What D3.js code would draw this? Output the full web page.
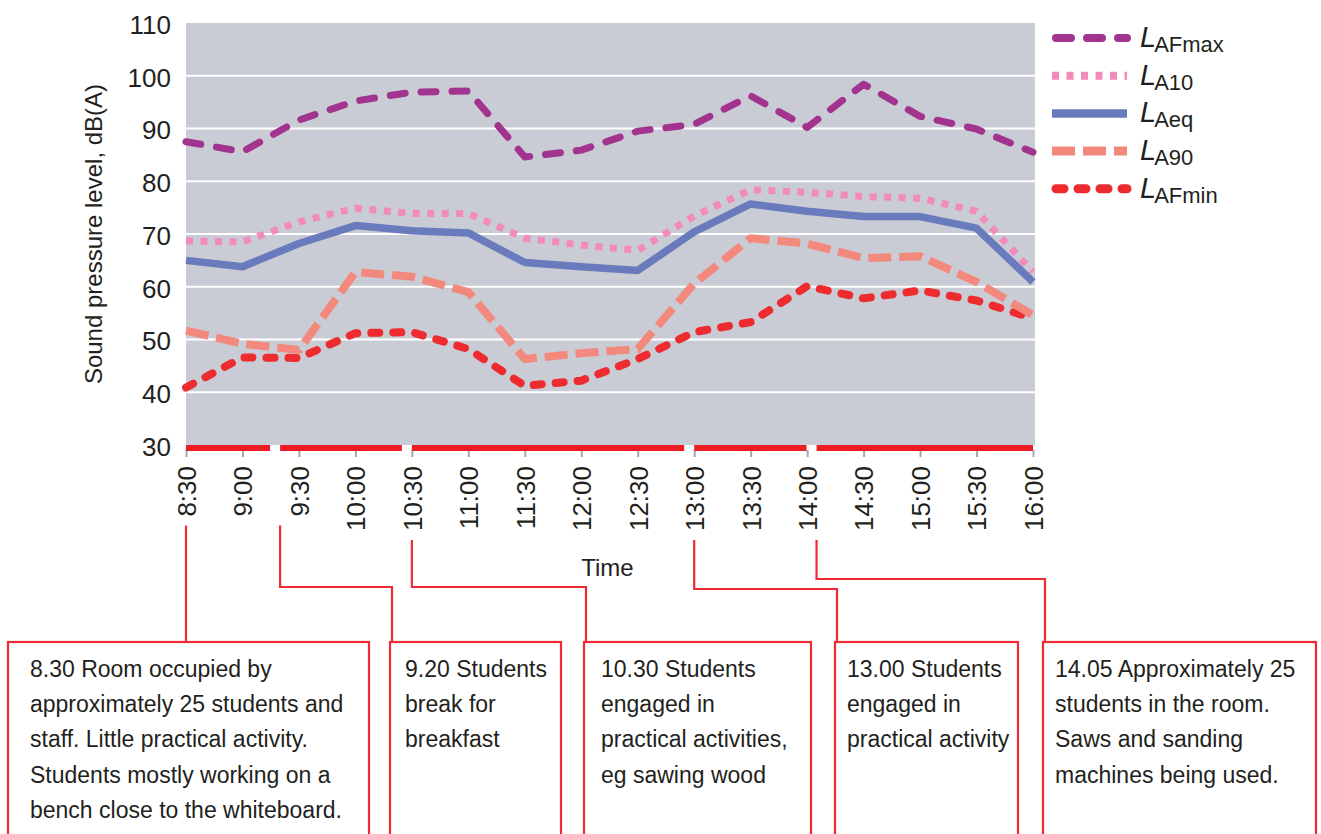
<!DOCTYPE html>
<html>
<head>
<meta charset="utf-8">
<script src="https://cdn.jsdelivr.net/npm/d3@7/dist/d3.min.js"></script>
<style>
  body { margin: 0; background: #ffffff; }
  text { font-family: "Liberation Sans", Arial, sans-serif; fill: #231f20; }
</style>
</head>
<body>
<svg id="chart" width="1321" height="834"></svg>
<script>
// Measurement times (half-hourly) and y-axis ticks
const times = ["8:30","9:00","9:30","10:00","10:30","11:00","11:30","12:00",
               "12:30","13:00","13:30","14:00","14:30","15:00","15:30","16:00"];
const yTicks = [30, 40, 50, 60, 70, 80, 90, 100, 110];

// Sound levels, dB(A)
const lafmax = [87.5, 85.6, 91.6, 95.2, 96.9, 97.1, 84.6, 85.9, 89.5, 90.8, 96.2, 90.2, 98.4, 92.3, 89.9, 85.5];
const la10   = [68.7, 68.5, 72.3, 74.9, 73.9, 73.9, 69.2, 67.9, 66.9, 73.4, 78.4, 77.9, 77.1, 76.8, 74.3, 62.8];
const laeq   = [65.0, 63.8, 68.2, 71.6, 70.6, 70.2, 64.6, 63.8, 63.1, 70.4, 75.7, 74.3, 73.3, 73.3, 71.1, 60.9];
const la90   = [51.7, 49.2, 48.0, 62.8, 61.9, 59.0, 46.3, 47.4, 48.2, 60.6, 69.2, 68.2, 65.4, 65.8, 60.9, 54.6];
const lafmin = [40.9, 46.6, 46.5, 51.2, 51.4, 48.2, 41.2, 42.2, 46.3, 51.4, 53.3, 60.1, 57.8, 59.3, 57.4, 54.0];

// Legend subscripts (each shown after an italic L)
const legendSubs = ["AFmax", "A10", "Aeq", "A90", "AFmin"];

// Activity log: start times and notes
const eventTimes = ["8:30", "9:20", "10:30", "13:00", "14:05"];
const eventNotes = [
  ["8.30 Room occupied by", "approximately 25 students and", "staff. Little practical activity.",
   "Students mostly working on a", "bench close to the whiteboard."],
  ["9.20 Students", "break for", "breakfast"],
  ["10.30 Students", "engaged in", "practical activities,", "eg sawing wood"],
  ["13.00 Students", "engaged in", "practical activity"],
  ["14.05 Approximately 25", "students in the room.", "Saws and sanding", "machines being used."]
];

// ---- layout ----
const svg = d3.select("#chart");
const plot = { left: 186, right: 1033, top: 23, bottom: 445 };

const x = d3.scalePoint().domain(times).range([plot.left, plot.right]).padding(0);
const y = d3.scaleLinear().domain([30, 110]).range([plot.bottom, plot.top]);
const toMin = t => { const [h, m] = t.split(":").map(Number); return h * 60 + m; };
const xt = d3.scaleLinear().domain([toMin(times[0]), toMin(times[times.length - 1])])
             .range([plot.left, plot.right]);

// Plot background
svg.append("rect")
  .attr("x", plot.left).attr("y", plot.top)
  .attr("width", plot.right - plot.left + 2).attr("height", plot.bottom - plot.top)
  .attr("fill", "#c9ccd4");

// Horizontal grid
svg.append("g").selectAll("line")
  .data(yTicks.filter(v => v > 30 && v < 110))
  .join("line")
  .attr("x1", plot.left).attr("x2", plot.right + 2)
  .attr("y1", d => y(d)).attr("y2", d => y(d))
  .attr("stroke", "#ffffff").attr("stroke-width", 2);

// Y axis
const yAxis = svg.append("g")
  .attr("transform", `translate(${plot.left},0)`)
  .call(d3.axisLeft(y).tickValues(yTicks).tickSize(0).tickPadding(15).tickFormat(d3.format("d")));
yAxis.select(".domain").remove();
yAxis.selectAll("text")
  .style("font-family", '"Liberation Sans", Arial, sans-serif')
  .style("font-size", "26px").attr("fill", "#231f20").attr("dy", "0.4em");

// X axis
const xAxis = svg.append("g")
  .attr("transform", `translate(0,${plot.bottom + 5})`)
  .call(d3.axisBottom(x).tickSize(7).tickPadding(0));
xAxis.select(".domain").remove();
xAxis.selectAll(".tick line").attr("stroke", "#a3a7ae").attr("stroke-width", 2);
xAxis.selectAll("text")
  .style("font-family", '"Liberation Sans", Arial, sans-serif')
  .style("font-size", "26px").attr("fill", "#231f20")
  .attr("text-anchor", "end")
  .attr("transform", "translate(0,16) rotate(-90)")
  .attr("x", 0).attr("y", 0).attr("dy", "0.36em");

// Axis titles
svg.append("text")
  .attr("transform", `translate(102,${(plot.top + plot.bottom) / 2}) rotate(-90)`)
  .attr("text-anchor", "middle")
  .style("font-size", "24px")
  .text("Sound pressure level, dB(A)");
svg.append("text")
  .attr("x", (plot.left + plot.right) / 2 - 2).attr("y", 576)
  .attr("text-anchor", "middle")
  .style("font-size", "24px")
  .text("Time");

// Series styling
const series = [
  { values: lafmax, color: "#a2338f", width: 7,   dash: "15,16", cap: "round" },
  { values: la10,   color: "#f28bba", width: 7,   dash: "7,7.5", cap: "butt"  },
  { values: laeq,   color: "#6a7bbd", width: 7.5, dash: null,    cap: "butt"  },
  { values: la90,   color: "#f3887d", width: 8,   dash: "23,8",  cap: "butt"  },
  { values: lafmin, color: "#ee2b2f", width: 8,   dash: "8,14",  cap: "round" }
];

const line = d3.line().x((d, i) => x(times[i])).y(d => y(d));

// Draw from bottom to top so the maximum sits above
const linesG = svg.append("g");
[...series].reverse().forEach(s => {
  linesG.append("path")
    .datum(s.values)
    .attr("d", line)
    .attr("fill", "none")
    .attr("stroke", s.color)
    .attr("stroke-width", s.width)
    .attr("stroke-linecap", s.cap)
    .attr("stroke-linejoin", "round")
    .attr("stroke-dasharray", s.dash);
});

// Legend
const legend = svg.append("g");
series.forEach((s, i) => {
  const cy = 38 + i * 37.7;
  legend.append("line")
    .attr("x1", s.cap === "round" ? 1056 : 1052).attr("x2", 1127)
    .attr("y1", cy).attr("y2", cy)
    .attr("stroke", s.color).attr("stroke-width", s.width + 1)
    .attr("stroke-linecap", s.cap)
    .attr("stroke-dasharray", s.dash);
  const t = legend.append("text").attr("x", 1140).attr("y", cy + 9);
  t.append("tspan").style("font-size", "29px").style("font-style", "italic").text("L");
  t.append("tspan").style("font-size", "22px").attr("dx", -2).attr("dy", 5).text(legendSubs[i]);
});

// Activity periods along the bottom of the plot
const red = "#ee2a35";
const starts = eventTimes.map(t => xt(toMin(t)));
const ends = starts.map((s, i) => i < starts.length - 1 ? starts[i + 1] - 10 : plot.right);
svg.append("g").selectAll("line")
  .data(starts)
  .join("line")
  .attr("x1", d => d).attr("x2", (d, i) => ends[i])
  .attr("y1", plot.bottom + 3).attr("y2", plot.bottom + 3)
  .attr("stroke", "#ed1c24").attr("stroke-width", 6);

// Note boxes
const boxes = [[8, 369], [390, 561], [584, 811], [835, 1018], [1043, 1316]];
const textPad = [22, 15, 17, 12, 12];
const boxTop = 642;
const elbowY = [null, 587, 587, 589, 579];

// Each connector starts just below the nearest time label
const labelBoxes = [];
xAxis.selectAll("text").each(function () {
  labelBoxes.push(this.getBoundingClientRect());
});
const connTop = starts.map(sx => {
  const nearest = d3.least(labelBoxes, r => Math.abs((r.left + r.right) / 2 - sx));
  return nearest.bottom + 9;
});

const conn = svg.append("g");
starts.forEach((sx, i) => {
  const bx = boxes[i][0] + 2;
  const pts = elbowY[i] === null
    ? [[sx, connTop[i]], [sx, boxTop]]
    : [[sx, connTop[i]], [sx, elbowY[i]], [bx, elbowY[i]], [bx, boxTop]];
  conn.append("path")
    .attr("d", d3.line()(pts))
    .attr("fill", "none").attr("stroke", red).attr("stroke-width", 2.2);
});

const notes = svg.append("g");
boxes.forEach((b, i) => {
  notes.append("rect")
    .attr("x", b[0]).attr("y", boxTop)
    .attr("width", b[1] - b[0]).attr("height", 220)
    .attr("fill", "#ffffff").attr("stroke", red).attr("stroke-width", 2.2);
  const t = notes.append("text").style("font-size", "23px");
  eventNotes[i].forEach((ln, k) => {
    t.append("tspan").attr("x", b[0] + textPad[i]).attr("y", 677 + k * 35.2).text(ln);
  });
});
</script>
</body>
</html>
